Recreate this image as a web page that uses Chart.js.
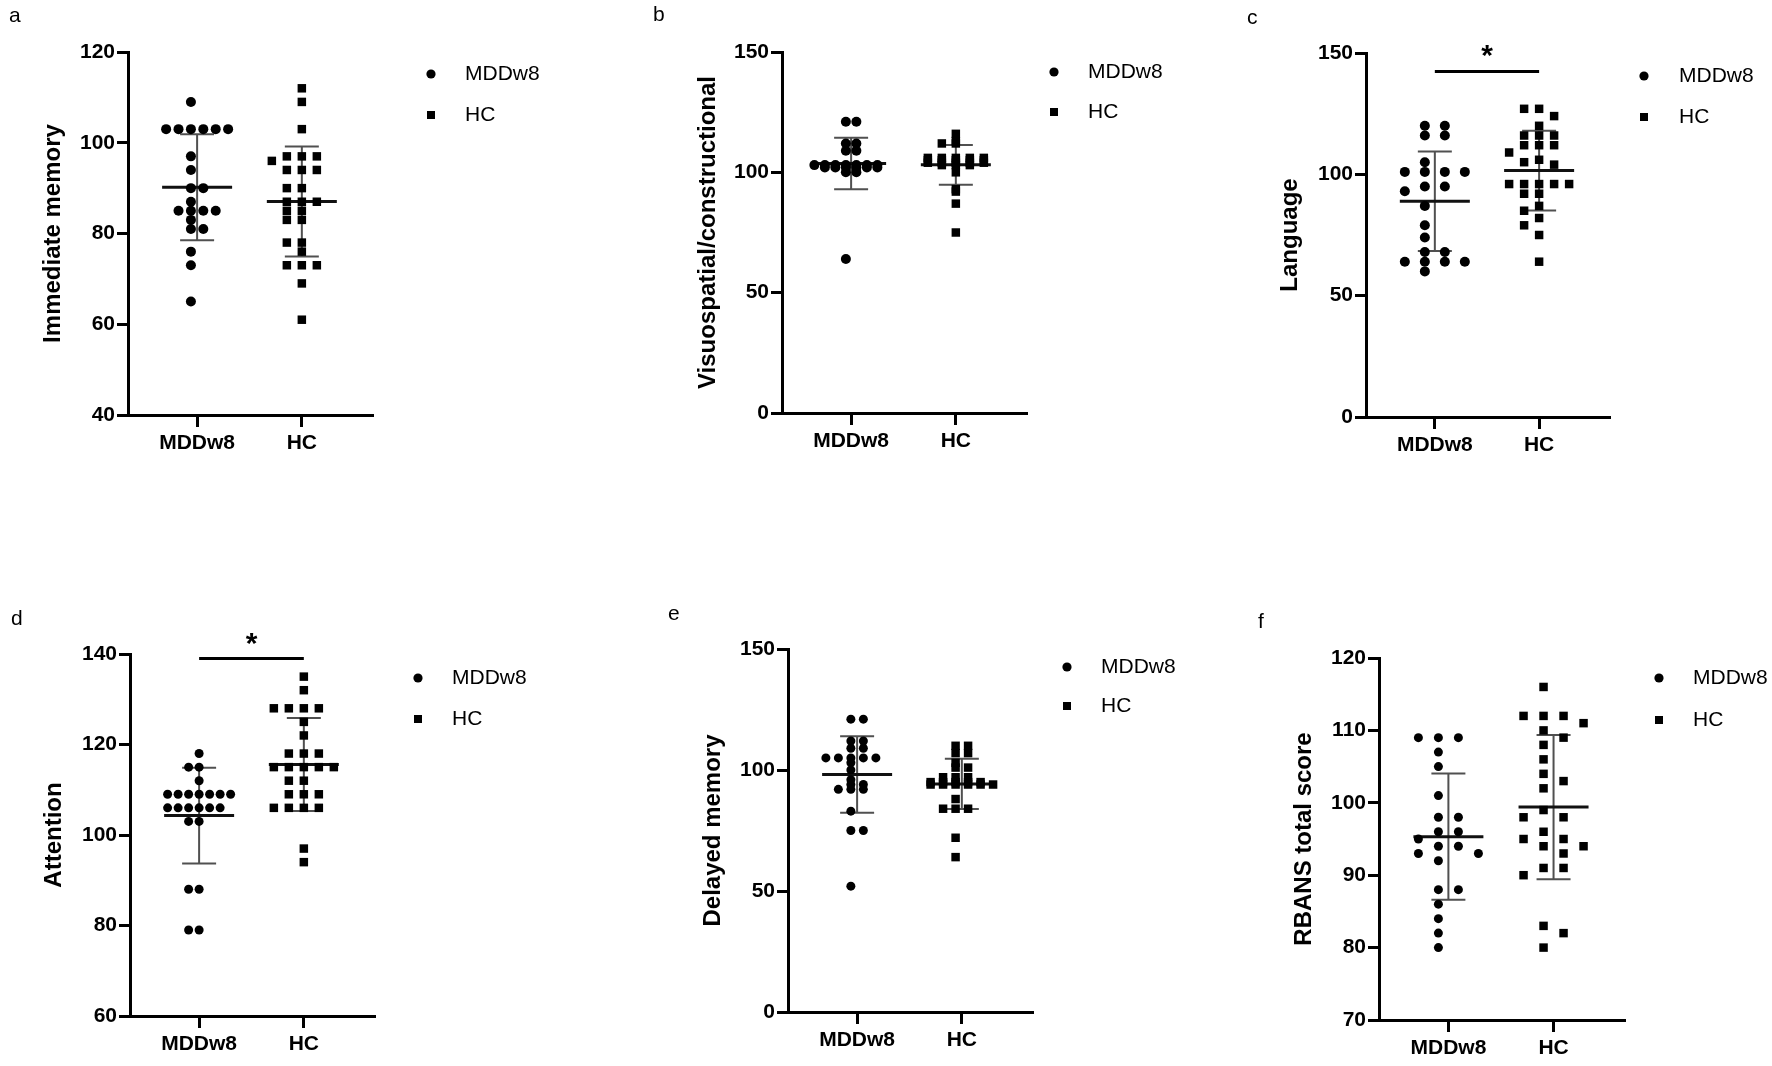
<!DOCTYPE html>
<html>
<head>
<meta charset="utf-8">
<title>RBANS scores, MDDw8 vs HC</title>
<script src="https://cdn.jsdelivr.net/npm/chart.js@4.4.1/dist/chart.umd.min.js"></script>
<style>
  html, body { margin: 0; padding: 0; background: #fff; }
  body { width: 1772px; height: 1066px; position: relative; overflow: hidden; }
  .panel { position: absolute; }
</style>
</head>
<body>
<div class="panel"><canvas id="chartA"></canvas></div>
<div class="panel"><canvas id="chartB"></canvas></div>
<div class="panel"><canvas id="chartC"></canvas></div>
<div class="panel"><canvas id="chartD"></canvas></div>
<div class="panel"><canvas id="chartE"></canvas></div>
<div class="panel"><canvas id="chartF"></canvas></div>
<script>
// Group names (x categories and legend)
const groups = ['MDDw8', 'HC'];

// a - Immediate memory
const immediateMDD = [109, 103, 103, 103, 103, 103, 103, 97, 94, 90, 90, 87, 85, 85, 85, 85, 83, 81, 81, 76, 73, 65];
const immediateHC = [112, 109, 103, 97, 97, 97, 96, 94, 94, 94, 90, 90, 87, 87, 87, 85, 85, 83, 83, 78, 78, 76, 73, 73, 73, 69, 61];

// b - Visuospatial/constructional
const visuoMDD = [121, 121, 112, 112, 109, 109, 103, 103, 103, 103, 103, 103, 103, 102, 102, 102, 102, 102, 102, 100, 100, 64];
const visuoHC = [116, 113, 112, 112, 106, 106, 106, 106, 106, 105, 105, 105, 105, 105, 104, 104, 104, 104, 104, 103, 103, 103, 100, 93, 92, 87, 75];

// c - Language
const languageMDD = [120, 120, 116, 116, 105, 101, 101, 101, 101, 95, 95, 93, 87, 79, 74, 68, 68, 64, 64, 64, 64, 60];
const languageHC = [127, 127, 124, 120, 116, 116, 116, 112, 112, 112, 109, 106, 105, 104, 96, 96, 96, 96, 96, 92, 92, 87, 85, 82, 79, 75, 64];

// d - Attention
const attentionMDD = [118, 115, 115, 112, 109, 109, 109, 109, 109, 109, 109, 106, 106, 106, 106, 106, 106, 103, 103, 88, 88, 79, 79];
const attentionHC = [135, 132, 128, 128, 128, 128, 125, 122, 118, 118, 118, 115, 115, 115, 115, 115, 112, 112, 109, 109, 109, 106, 106, 106, 106, 97, 94];

// e - Delayed memory
const delayedMDD = [121, 121, 112, 112, 109, 109, 105, 105, 105, 105, 105, 103, 100, 96, 94, 94, 92, 92, 92, 83, 75, 75, 52];
const delayedHC = [110, 110, 107, 107, 103, 101, 101, 97, 97, 97, 95, 95, 95, 95, 95, 94, 94, 94, 94, 94, 94, 88, 84, 84, 84, 72, 64];

// f - RBANS total score
const totalMDD = [109, 109, 109, 107, 105, 101, 98, 98, 96, 96, 95, 94, 94, 93, 93, 92, 88, 88, 86, 84, 82, 80];
const totalHC = [116, 112, 112, 112, 111, 110, 109, 108, 106, 104, 103, 102, 99, 98, 98, 96, 95, 95, 94, 94, 93, 91, 91, 90, 83, 82, 80];

const FONT = '"Liberation Sans", Arial, Helvetica, sans-serif';

// Panel layout: page positions of the axes, letter and legend
// yTol: vertical distance (px) under which two points count as touching
const panels = [
  { id: 'chartA', letter: 'a', title: 'Immediate memory', mdd: immediateMDD, hc: immediateHC,
    yMin: 40, yMax: 120, yStep: 20, sig: null,
    box: { left: 9, top: 0, width: 591, height: 500 },
    letterMid: 16.7, axisX: 128, titleX: 53, top: 52, bottom: 415, xEnd: 372,
    legend: { mx: 431, tx: 465, rows: [74, 115] },
    dot: 5, gap: [12.4, 15], half: [true, false], yTol: 8.5 },
  { id: 'chartB', letter: 'b', title: 'Visuospatial/constructional', mdd: visuoMDD, hc: visuoHC,
    yMin: 0, yMax: 150, yStep: 50, sig: null,
    box: { left: 653, top: 0, width: 542, height: 500 },
    letterMid: 15.7, axisX: 782, titleX: 708, top: 52, bottom: 413, xEnd: 1026,
    legend: { mx: 1054, tx: 1088, rows: [72, 112] },
    dot: 5, gap: [10.5, 14], half: [true, false], yTol: 1.5 },
  { id: 'chartC', letter: 'c', title: 'Language', mdd: languageMDD, hc: languageHC,
    yMin: 0, yMax: 150, yStep: 50, sig: 142.4,
    box: { left: 1247, top: 0, width: 525, height: 500 },
    letterMid: 18.7, axisX: 1366, titleX: 1290, top: 53, bottom: 417, xEnd: 1609,
    legend: { mx: 1644, tx: 1679, rows: [76, 117] },
    dot: 5, gap: [20, 15], half: [true, false], yTol: 9 },
  { id: 'chartD', letter: 'd', title: 'Attention', mdd: attentionMDD, hc: attentionHC,
    yMin: 60, yMax: 140, yStep: 20, sig: 139,
    box: { left: 11, top: 540, width: 589, height: 526 },
    letterMid: 619.7, axisX: 130, titleX: 54, top: 654, bottom: 1016, xEnd: 374,
    legend: { mx: 418, tx: 452, rows: [678, 719] },
    dot: 4.5, gap: [10.5, 15], half: [false, false], yTol: null },
  { id: 'chartE', letter: 'e', title: 'Delayed memory', mdd: delayedMDD, hc: delayedHC,
    yMin: 0, yMax: 150, yStep: 50, sig: null,
    box: { left: 668, top: 540, width: 527, height: 526 },
    letterMid: 614.7, axisX: 788, titleX: 713, top: 649, bottom: 1012, xEnd: 1032,
    legend: { mx: 1067, tx: 1101, rows: [667, 706] },
    dot: 4.5, gap: [12.5, 12.5], half: [true, true], yTol: 1.5 },
  { id: 'chartF', letter: 'f', title: 'RBANS total score', mdd: totalMDD, hc: totalHC,
    yMin: 70, yMax: 120, yStep: 10, sig: null,
    box: { left: 1258, top: 540, width: 514, height: 526 },
    letterMid: 622.7, axisX: 1379, titleX: 1304, top: 658, bottom: 1020, xEnd: 1624,
    legend: { mx: 1659, tx: 1693, rows: [678, 720] },
    dot: 4.5, gap: [20, 20], half: [true, true], yTol: null }
];

const SQUARE_R = 6;

function mean(vals) {
  return vals.reduce((a, b) => a + b, 0) / vals.length;
}

function sd(vals) {
  const m = mean(vals);
  return Math.sqrt(vals.reduce((a, v) => a + (v - m) * (v - m), 0) / (vals.length - 1));
}

// slot order: 0, -1, 1, -2, 2 ... or -0.5, 0.5, -1.5, 1.5 ...
function slotAt(k, half) {
  if (half) {
    const n = Math.floor(k / 2) + 0.5;
    return k % 2 === 0 ? -n : n;
  }
  if (k === 0) return 0;
  const n = Math.ceil(k / 2);
  return k % 2 === 1 ? -n : n;
}

// Spread points sideways like a scatter dot plot
const swarmPlugin = {
  id: 'swarm',
  afterDatasetsUpdate(chart, args, opts) {
    const xScale = chart.scales.x;
    chart.data.datasets.forEach((ds, di) => {
      const meta = chart.getDatasetMeta(di);
      const centre = xScale.getPixelForValue(di + 1);
      const size = opts.size[di];
      const yTol = opts.yTol === null ? size : opts.yTol;
      const placed = [];
      const order = meta.data.map((el, i) => i).sort((a, b) => meta.data[a].y - meta.data[b].y);
      order.forEach(i => {
        const el = meta.data[i];
        for (let k = 0; k < 40; k++) {
          const px = centre + slotAt(k, opts.half[di]) * opts.gap[di];
          const hit = placed.some(p => Math.abs(p.x - px) < size && Math.abs(p.y - el.y) < yTol);
          if (!hit) {
            el.x = px;
            placed.push({ x: px, y: el.y });
            break;
          }
        }
      });
    });
  }
};

// Mean line and SD whiskers
const meanSdPlugin = {
  id: 'meanSd',
  beforeDatasetsDraw(chart) {
    const { ctx, scales: { x, y } } = chart;
    chart.data.datasets.forEach((ds, di) => {
      const vals = ds.data.map(p => p.y);
      const m = mean(vals);
      const s = sd(vals);
      const cx = x.getPixelForValue(di + 1);
      const yHi = y.getPixelForValue(m + s);
      const yLo = y.getPixelForValue(m - s);
      const yM = y.getPixelForValue(m);
      ctx.save();
      ctx.strokeStyle = '#505050';
      ctx.lineWidth = 2;
      ctx.beginPath();
      ctx.moveTo(cx, yHi); ctx.lineTo(cx, yLo);
      ctx.moveTo(cx - 17, yHi); ctx.lineTo(cx + 17, yHi);
      ctx.moveTo(cx - 17, yLo); ctx.lineTo(cx + 17, yLo);
      ctx.stroke();
      ctx.strokeStyle = '#111';
      ctx.lineWidth = 3;
      ctx.beginPath();
      ctx.moveTo(cx - 35, yM); ctx.lineTo(cx + 35, yM);
      ctx.stroke();
      ctx.restore();
    });
  }
};

// Significance bar and legend at the side
const sideNotesPlugin = {
  id: 'sideNotes',
  afterDraw(chart, args, opts) {
    const { ctx, scales: { x, y } } = chart;
    ctx.save();
    if (opts.sig !== null) {
      const yy = y.getPixelForValue(opts.sig);
      const x1 = x.getPixelForValue(1);
      const x2 = x.getPixelForValue(2);
      ctx.strokeStyle = '#000';
      ctx.lineWidth = 3;
      ctx.beginPath();
      ctx.moveTo(x1, yy); ctx.lineTo(x2, yy);
      ctx.stroke();
      ctx.fillStyle = '#000';
      ctx.font = 'bold 30px ' + FONT;
      ctx.textAlign = 'center';
      ctx.textBaseline = 'alphabetic';
      ctx.fillText('*', (x1 + x2) / 2, yy - 6);
    }
    const lg = opts.legend;
    ctx.fillStyle = '#000';
    ctx.beginPath();
    ctx.arc(lg.mx, lg.rows[0], 4.6, 0, Math.PI * 2);
    ctx.fill();
    ctx.fillRect(lg.mx - 4, lg.rows[1] - 4, 8, 8);
    ctx.font = '21px ' + FONT;
    ctx.textAlign = 'left';
    ctx.textBaseline = 'middle';
    ctx.fillText(groups[0], lg.tx, lg.rows[0]);
    ctx.fillText(groups[1], lg.tx, lg.rows[1]);
    ctx.restore();
  }
};

function buildPanel(p) {
  const box = p.box;
  const canvas = document.getElementById(p.id);
  const wrap = canvas.parentNode;
  wrap.style.left = box.left + 'px';
  wrap.style.top = box.top + 'px';
  wrap.style.width = box.width + 'px';
  wrap.style.height = box.height + 'px';

  const xH = 40;
  const yW = p.axisX - box.left;
  const padTop = p.letterMid - box.top - 12.6;
  const letterGap = p.top - box.top - padTop - 25.2;
  const padBottom = box.top + box.height - p.bottom - xH;
  const padRight = box.left + box.width - p.xEnd;
  const yTitlePad = p.titleX - box.left - 14.4;

  const tickFont = { family: FONT, size: 21, weight: 'bold' };

  return new Chart(canvas, {
    type: 'scatter',
    data: {
      datasets: [
        {
          label: groups[0],
          data: p.mdd.map(v => ({ x: 1, y: v })),
          pointStyle: 'circle',
          pointRadius: p.dot,
          backgroundColor: '#000',
          borderWidth: 0
        },
        {
          label: groups[1],
          data: p.hc.map(v => ({ x: 2, y: v })),
          pointStyle: 'rect',
          pointRadius: SQUARE_R,
          backgroundColor: '#000',
          borderWidth: 0
        }
      ]
    },
    options: {
      responsive: true,
      maintainAspectRatio: false,
      animation: false,
      events: [],
      layout: { padding: { left: 0, top: padTop, right: padRight, bottom: padBottom } },
      plugins: {
        legend: { display: false },
        tooltip: { enabled: false },
        title: {
          display: true,
          text: p.letter,
          align: 'start',
          color: '#000',
          font: { family: FONT, size: 21, weight: 'normal' },
          padding: { top: 0, bottom: letterGap }
        },
        swarm: { gap: p.gap, half: p.half, yTol: p.yTol, size: [p.dot * 2, SQUARE_R * Math.SQRT2] },
        sideNotes: {
          sig: p.sig,
          legend: { mx: p.legend.mx - box.left, tx: p.legend.tx - box.left, rows: p.legend.rows.map(r => r - box.top) }
        }
      },
      scales: {
        x: {
          type: 'linear',
          min: 0.34,
          max: 2.67,
          afterFit: s => { s.height = xH; },
          afterBuildTicks: s => { s.ticks = [{ value: 1 }, { value: 2 }]; },
          ticks: { callback: v => groups[v - 1], color: '#000', font: tickFont, padding: 4, maxRotation: 0, autoSkip: false },
          grid: { display: true, drawOnChartArea: false, drawTicks: true, tickLength: 12, lineWidth: 3, color: '#000' },
          border: { display: true, width: 3, color: '#000' }
        },
        y: {
          min: p.yMin,
          max: p.yMax,
          afterFit: s => { s.width = yW; },
          ticks: { stepSize: p.yStep, color: '#000', font: tickFont, padding: 2 },
          grid: { display: true, drawOnChartArea: false, drawTicks: true, tickLength: 11, lineWidth: 3, color: '#000' },
          border: { display: true, width: 3, color: '#000' },
          title: {
            display: true,
            text: p.title,
            color: '#000',
            font: { family: FONT, size: 24, weight: 'bold' },
            padding: { top: yTitlePad, bottom: 0 }
          }
        }
      }
    },
    plugins: [swarmPlugin, meanSdPlugin, sideNotesPlugin]
  });
}

const charts = panels.map(buildPanel);
</script>
</body>
</html>
